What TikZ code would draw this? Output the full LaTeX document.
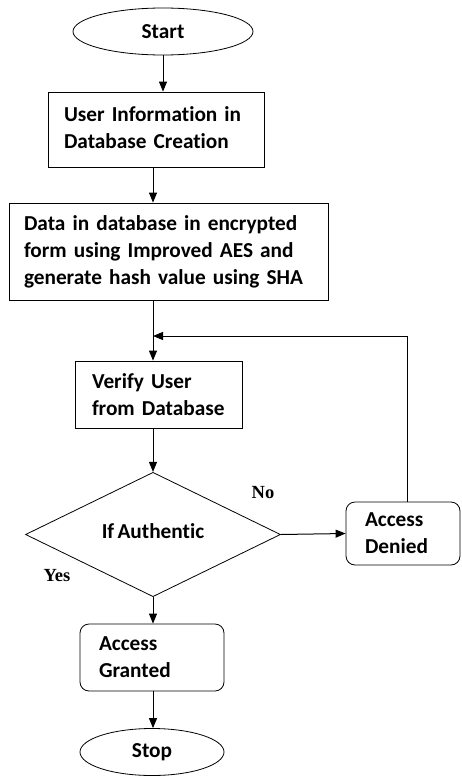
\documentclass[tikz,border=0pt]{standalone}
\usepackage{fontspec}
\setmainfont{Carlito}[Ligatures=NoCommon,WordSpace=0.7]
\newfontfamily\lblfont{Liberation Serif}
\usetikzlibrary{shapes.geometric,arrows.meta}
\begin{document}
\begin{tikzpicture}[x=1pt,y=-1pt,
  every node/.style={font=\bfseries\fontsize{21.3}{27}\selectfont},
  term/.style={ellipse,draw,line width=0.8pt,inner sep=0pt},
  procbox/.style={rectangle,draw,line width=0.8pt,align=left,inner ysep=0pt},
  roundbox/.style={rectangle,rounded corners=9pt,draw,line width=0.8pt,align=left,inner ysep=0pt},
  decision/.style={diamond,draw,line width=0.8pt,inner sep=0pt},
  lbl/.style={font=\lblfont\bfseries\fontsize{18.5}{20}\selectfont},
  arr/.style={line width=1pt,-{Triangle[length=10pt,width=8pt]}}
]
\useasboundingbox (0,0) rectangle (461,776);
\node[term,minimum width=180pt,minimum height=47pt] (start) at (163,31.5) {Start};
\node[procbox,minimum width=216pt,minimum height=75pt,text width=184pt,inner xsep=16pt] (b1) at (156,129.5) {\raisebox{5pt}{\begin{tabular}{@{}l@{}}User Information in\\[-0.5pt]Database Creation\end{tabular}}};
\node[procbox,minimum width=319pt,minimum height=97pt,text width=289pt,inner xsep=15pt] (b2) at (168.5,251.5) {Data in database in encrypted\\form using Improved AES and\\generate hash value using SHA};
\node[procbox,minimum width=167pt,minimum height=67pt,text width=133pt,inner xsep=17pt] (b3) at (158.5,394.5) {Verify User\\from Database};
\node[decision,minimum width=255pt,minimum height=91pt] (dia) at (153,534.5) {\raisebox{7pt}{If Authentic}};
\node[roundbox,minimum width=114pt,minimum height=63pt,text width=76pt,inner xsep=19pt] (ad) at (403,533.5) {Access\\Denied};
\node[roundbox,minimum width=144pt,minimum height=67pt,text width=106pt,inner xsep=19pt] (ag) at (152,657.5) {Access\\Granted};
\node[term,minimum width=144pt,minimum height=47pt] (stop) at (152,752) {Stop};
\node[lbl] (no) at (263,493) {No};
\node[lbl] (yes) at (57,576) {Yes};
\coordinate (fb) at (153,336);
\draw[arr] (start.south) -- (start.south |- b1.north);
\draw[arr] (dia.north |- b1.south) -- (dia.north |- b2.north);
\draw[arr] (dia.north |- b2.south) -- (dia.north |- b3.north);
\draw[arr] (dia.north |- b3.south) -- (dia.north);
\draw[arr] (dia.east) -- (ad.west);
\draw[arr] ([xshift=4pt]ad.north) |- (fb);
\draw[arr] (dia.south) -- (dia.south |- ag.north);
\draw[arr] (dia.south |- ag.south) -- (dia.south |- stop.north);
\end{tikzpicture}
\end{document}
